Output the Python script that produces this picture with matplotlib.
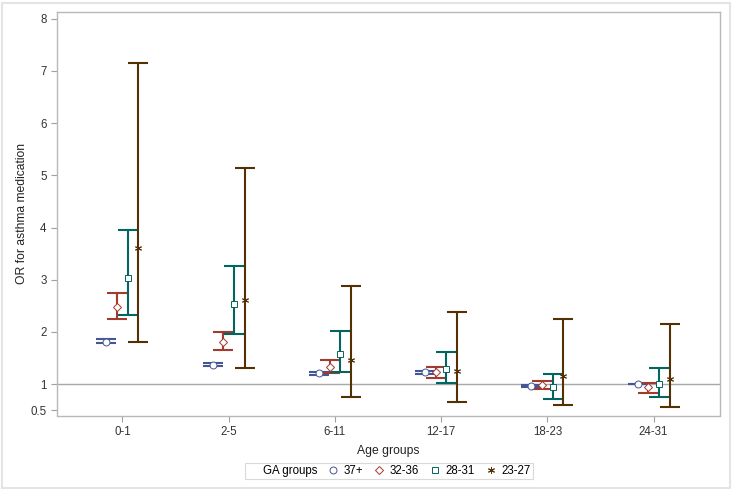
import numpy as np
import matplotlib.pyplot as plt
from matplotlib.lines import Line2D
from matplotlib.patches import Rectangle

plt.rcParams['font.family'] = ['Liberation Sans', 'DejaVu Sans']

# Age groups on the x axis, GA groups as series
ages = ['0-1', '2-5', '6-11', '12-17', '18-23', '24-31']
ga_groups = ['37+', '32-36', '28-31', '23-27']

or_37 = [1.81, 1.37, 1.21, 1.23, 0.97, 1.00]
lo_37 = [1.78, 1.34, 1.18, 1.20, 0.95, 1.00]
hi_37 = [1.86, 1.40, 1.24, 1.26, 0.99, 1.00]

or_32 = [2.47, 1.81, 1.33, 1.24, 0.98, 0.94]
lo_32 = [2.24, 1.65, 1.22, 1.12, 0.90, 0.83]
hi_32 = [2.74, 2.00, 1.47, 1.33, 1.06, 1.03]

or_28 = [3.03, 2.54, 1.58, 1.29, 0.94, 1.01]
lo_28 = [2.33, 1.97, 1.24, 1.03, 0.72, 0.76]
hi_28 = [3.95, 3.27, 2.01, 1.62, 1.19, 1.31]

or_23 = [3.61, 2.62, 1.47, 1.26, 1.16, 1.10]
lo_23 = [1.81, 1.31, 0.75, 0.66, 0.60, 0.56]
hi_23 = [7.15, 5.15, 2.88, 2.39, 2.25, 2.15]

series = [(or_37, lo_37, hi_37), (or_32, lo_32, hi_32),
          (or_28, lo_28, hi_28), (or_23, lo_23, hi_23)]
colors = ['#445694', '#A23A2E', '#01665E', '#543005']
markers = ['o', 'D', 's', (6, 2, 0)]
msizes = [5, 4.2, 5, 5]
offsets = [-0.15, -0.05, 0.05, 0.15]

fig = plt.figure(figsize=(7.33, 4.90), dpi=100)
ax = fig.add_axes([57 / 733, 1 - 415.5 / 490, (719.5 - 57) / 733, (415.5 - 12) / 490])

x = np.arange(len(ages))
ax.axhline(1, color='#a8a8a8', lw=1, zorder=1)

for (est, lo, hi), c, m, ms, off in zip(series, colors, markers, msizes, offsets):
    est = np.array(est)
    yerr = [est - np.array(lo), np.array(hi) - est]
    ax.errorbar(x + off, est, yerr=yerr, fmt='none', ecolor=c, elinewidth=1.5,
                capsize=7, capthick=1.5, zorder=2)
    ax.plot(x + off, est, linestyle='none', marker=m, markersize=ms,
            markerfacecolor='white', markeredgecolor=c, markeredgewidth=0.7, zorder=3)

ax.set_xlim(-0.615, 5.62)
ax.set_ylim(0.4, 8.13)
ax.set_xticks(x)
ax.set_xticklabels(ages)
ax.set_yticks([0.5, 1, 2, 3, 4, 5, 6, 7, 8])
ax.set_yticklabels(['0.5', '1', '2', '3', '4', '5', '6', '7', '8'])
ax.tick_params(colors='#a0a0a0', labelcolor='#333333', labelsize=8.3, length=4, width=0.8)
for s in ax.spines.values():
    s.set_color('#b8b8b8')
    s.set_linewidth(1)

ax.set_xlabel('Age groups', fontsize=8.7, color='#222222', labelpad=5)
ax.set_ylabel('OR for asthma medication', fontsize=8.7, color='#222222', labelpad=2)

handles = [Line2D([], [], linestyle='none')]
labels = ['GA groups']
for g, c, m, ms in zip(ga_groups, colors, markers, msizes):
    handles.append(Line2D([], [], linestyle='none', marker=m, markersize=ms,
                          markerfacecolor='none', markeredgecolor=c, markeredgewidth=0.7))
    labels.append(g)
leg = fig.legend(handles, labels, loc='center', bbox_to_anchor=(389 / 733, 1 - 471 / 490),
                 ncol=5, fontsize=8.3, frameon=True, fancybox=False, handlelength=0.8,
                 handletextpad=0.5, columnspacing=1.0, borderpad=0.2, borderaxespad=0)
leg.get_frame().set_edgecolor('#d0d0d0')
leg.get_frame().set_linewidth(0.8)

fig.patches.append(Rectangle((2 / 733, 2 / 490), 728 / 733, 485 / 490, transform=fig.transFigure,
                             fill=False, edgecolor='#e4e4e4', lw=1.5))

fig.savefig('out.png', dpi=100)
